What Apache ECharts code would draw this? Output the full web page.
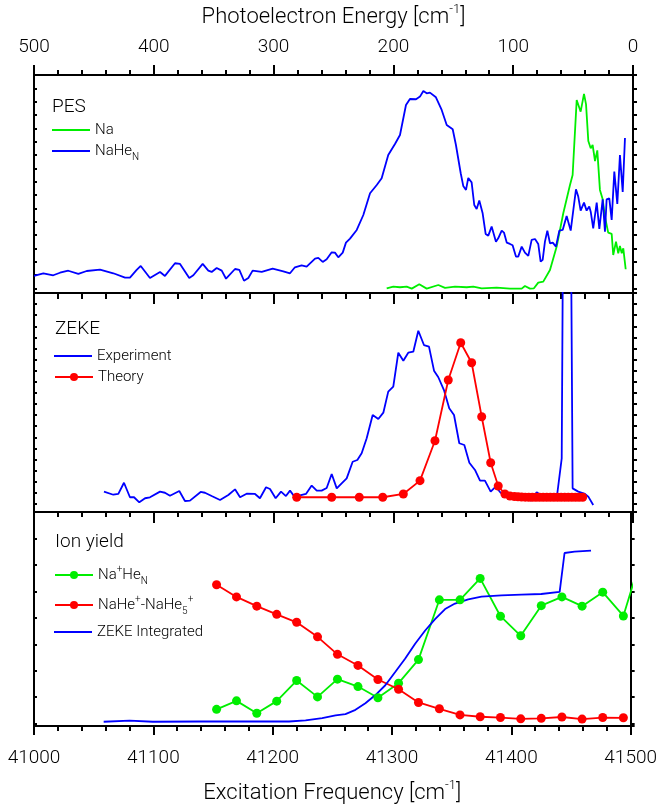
<!DOCTYPE html>
<html>
<head>
<meta charset="utf-8">
<script src="https://cdn.jsdelivr.net/npm/echarts@6/dist/echarts.min.js"></script>
<style>
  html, body { margin: 0; padding: 0; background: #fff; }
  #chart { width: 660px; height: 808px; }
</style>
</head>
<body>
<div id="chart"></div>
<script>
// PES panel: photoelectron energy [cm-1] vs intensity (arb. units)
var pesNaHeE = [500,492.2,483.9,478.3,471.4,463,456,444.9,433.8,424,419.9,414.3,410.9,403.2,394.8,390.7,382.3,378.1,370.4,367,359.2,354.5,351.7,347.5,343.3,339.7,332.2,328.6,324.7,321.1,317.5,309.9,300.8,291.9,286.3,282.2,276.6,272.4,265.4,262.7,259,255.7,251.5,248.8,246,242.3,239.6,236.2,230.6,225.1,219.5,213.9,209.8,204.3,198.7,194.5,189.5,186.2,181.1,177.8,175,172.2,169.5,164.5,159.7,155.5,150.5,147.8,143.8,141.7,139.4,137.5,134.7,132.5,130.5,128.3,125.5,123,120.8,118,116.6,114.4,112.5,109.6,107.7,105.4,102.7,100.5,97.7,95.8,92.9,90.2,87.4,84.6,81.8,79.1,77.1,75.4,73.5,71.5,69.3,67,64.3,61.5,58.7,55.4,52,49.8,47.6,45.7,43.7,40.9,38.7,36.5,35.3,33.2,30.3,28.1,25.3,23.4,22,19.8,17.8,15.6,13.1,10.9,8.6,6.7];
var pesNaHeI = [12.8,14.8,13.3,15.2,16.7,14.3,16.5,17.5,14.8,11.5,11.5,17.3,20.3,11.3,15.8,12.8,22.3,21.8,11.3,13.3,21.8,16.8,15.8,18.8,16.8,10.7,18,17.3,9.2,11.3,16.8,15.8,18.3,16.3,14.8,19.3,20.8,19.8,25.8,26.3,23.3,25.3,30.5,30.3,26.8,30.3,37.8,40.8,47.3,58.5,74.8,81,86,103.5,111.8,118.5,141,145.5,145.3,147.3,151.5,149.8,150.3,146.8,137.3,126,122.8,111,89.8,80.3,77.3,86.3,83,66,63,69.3,59.8,44.3,43,49.8,48.5,38.5,41,46.8,45.3,37.8,36.8,35.8,27.3,27.3,34.8,30.3,27.8,39.8,40.5,36.8,23.5,24.8,38.5,46.8,37.3,37.8,34.8,46.8,47.3,57.8,46.8,62.3,77.8,72.3,61.8,67.8,61.8,64.8,61,48.5,67.8,48,70.3,46,70.3,71,54.8,91,66.8,103.5,75.8,116.3];
var pesNaE = [205.6,200.1,194.5,188.9,184.7,178.4,172.2,162.5,156.9,148.6,138.8,133.3,126.3,113.8,102.7,92.9,90.2,86,82.7,79.1,74.9,69.3,63.7,58.2,52.6,50.4,47,45.7,43.7,40.9,39.2,37.3,35.3,33.7,31.7,29.8,27.6,25.3,23.4,20.7,17.8,16.5,14.2,12.3,10.9,9.4,8.1,6.1];
var pesNaI = [3.5,4.8,4.3,4.8,3.3,6.5,3.3,6,3.8,4.8,4.3,4.8,3.5,4,3.3,3.3,5.3,3.3,3.5,7.8,8.5,17.3,34.8,59.8,81,88.5,144.8,146,136,149.3,141.5,114,108.5,111,99,107,77.3,70.3,57.3,45.3,44.3,28.5,38.5,29.8,35.3,29.8,33.5,17.8];

// ZEKE panel: excitation frequency [cm-1] vs signal
var zekeExpF = [41058.4,41066.2,41070.4,41075.1,41080.1,41083.5,41087.9,41092.7,41096.8,41105.2,41109.3,41113.5,41121.3,41126,41130.2,41139.1,41142.7,41148.3,41155.3,41162.2,41167.8,41172,41177.5,41184.5,41188.6,41193.7,41197,41201.7,41206.2,41210.3,41213.7,41218.7,41222,41227,41231.8,41236,41240.1,41244.3,41248.5,41252.7,41256.8,41261,41266,41269.9,41273.5,41277.7,41282.7,41287.4,41291.6,41295.7,41299.9,41304.1,41308.3,41312.4,41316.6,41320.8,41325.5,41329.7,41333.9,41337.5,41342.2,41346.6,41350.6,41355,41359.2,41363.4,41368.1,41372.3,41376.4,41381.2,41385.4,41389.5,41394,41397.9,41401.5,41405.7,41409.8,41414.8,41419.6,41423.8,41427.9,41432.1,41436.3,41440.5,41441.6,41448.2,41449.6,41454.3,41459.9,41462.7,41466.8];
var zekeExpI = [18.5,15.7,16.4,26.6,13.4,13.4,8.8,12.5,13.4,18.5,17.5,14.8,19.1,10,10.3,18.2,17.5,14.5,10.9,15.5,20.6,13.4,16.6,16.4,12.5,22.5,20.9,12.5,18.5,14.5,19.4,12.1,15.2,16.4,24,19.4,19.4,21.8,34.5,21.5,26.1,30.6,45.7,47.3,53.4,67,88.2,84.5,90.3,109.4,113.9,144.8,137.5,144.8,145.7,164.8,151.8,150.3,128.5,122.5,110.9,94.3,88.2,62.5,60.9,44.8,38.2,28.5,28.5,18.5,23,17.5,16.4,17.5,14,16.1,15.2,10.3,17.9,14.8,10.9,13.9,12.5,48.8,260,260,21.5,18.5,16.4,14,6.4];
var zekeThF = [41219.3,41248.5,41271.5,41291.1,41308.3,41322.2,41334.7,41345.8,41356.2,41365.3,41373.7,41381.2,41387.5,41393.1,41397.3,41401,41404,41407,41410,41413,41416,41419,41422,41425,41428,41431,41434,41437,41440,41443,41446,41449,41452,41455,41458];
var zekeThI = [13.4,13.4,13.4,13.4,16.4,28.5,64.8,120,153.9,135.7,86.6,44.8,23.6,16.4,14.5,14,13.8,13.6,13.5,13.4,13.4,13.4,13.4,13.4,13.4,13.4,13.4,13.4,13.4,13.4,13.4,13.4,13.4,13.4,13.4];

// Ion yield panel
var ionF = [41153,41169.7,41186.7,41203.4,41220.1,41237.6,41254.3,41271.5,41288.2,41305.5,41322.2,41339.7,41357,41373.9,41390.9,41407.9,41425.1,41442.4,41459.3,41476.6,41493.9,41510.9];
var ionNaHeN = [6.3,9.5,4.8,9.4,17.2,11,17.7,14.9,10.7,16.2,25.1,47.7,47.7,55.8,41.5,34.1,45.5,48.8,45.3,50.6,41.6,66.7];
var ionNaHe15 = [53.4,48.8,45.3,42.2,39.2,33.7,27.1,22.9,17.6,13.9,8.9,6.5,4.2,3.5,3.2,2.7,2.9,3.4,2.6,3.2,3.1];
var zekeIntF = [41058.4,41080.1,41099.6,41138.6,41180.3,41213.7,41227.6,41241.5,41252.7,41261,41269.4,41277.7,41286.1,41294.4,41302.7,41311.1,41319.4,41327.8,41336.1,41344.5,41352.8,41363.9,41375,41391.7,41408.4,41425.1,41440.5,41444.6,41453,41466.8];
var zekeIntI = [1.6,2.0,1.6,1.7,1.7,1.7,2.1,3.0,4.0,4.5,6.1,8.6,11.7,15.4,20.4,25.5,31.1,36.1,40.4,44.2,46.3,47.9,48.9,49.4,49.7,49.9,50.7,65.4,65.9,66.3];

var FONT = 'Roboto';
var BLUE = '#0000ff', GREEN = '#00ee00', RED = '#ff0000';

function zip(xs, ys) {
  return ys.map(function (y, i) { return [xs[i], y]; });
}

var black = { color: '#000', width: 2 };
var supSub = {
  sup: { fontSize: 10, lineHeight: 10, verticalAlign: 'top', fontFamily: FONT, color: '#000' },
  sub: { fontSize: 10, lineHeight: 10, verticalAlign: 'bottom', fontFamily: FONT, color: '#000' }
};
var nameStyle = { fontSize: 22, lineHeight: 28, color: '#000', fontFamily: FONT, fontWeight: 300,
  rich: { sup: { fontSize: 13, lineHeight: 13, verticalAlign: 'top', fontFamily: FONT, fontWeight: 300, color: '#000' } } };

function plain(v) { return String(v); }

function freqAxis(grid, withLabels) {
  return {
    gridIndex: grid, type: 'value', position: 'bottom',
    min: 41000, max: 41500, interval: 100,
    axisLine: { show: true, onZero: false, lineStyle: black },
    axisTick: { show: true, inside: false, length: withLabels ? 9 : 11, lineStyle: black },
    minorTick: { show: true, splitNumber: 5, length: 5, lineStyle: black },
    axisLabel: { show: withLabels, margin: 23, fontSize: 19, color: '#000', fontFamily: FONT, fontWeight: 300, formatter: plain },
    splitLine: { show: false }, minorSplitLine: { show: false },
    name: withLabels ? 'Excitation Frequency [cm{sup|-1}]' : '',
    nameLocation: 'middle', nameGap: 53, nameTextStyle: nameStyle
  };
}

function tickAxis(grid, side, max) {
  return {
    gridIndex: grid, type: 'value', position: side, inverse: true,
    min: 0, max: max, interval: 1,
    axisLine: { show: true, onZero: false, lineStyle: black },
    axisTick: { show: true, inside: side === 'left', length: side === 'left' ? 3 : 4, lineStyle: black },
    axisLabel: { show: false }, splitLine: { show: false }
  };
}

function dataAxis(grid, max) {
  return { gridIndex: grid, type: 'value', min: 0, max: max, show: false };
}

// lineOnly: plain line in the key (no marker)
function legendItem(name, left, top, lineOnly) {
  return {
    data: [lineOnly ? { name: name, icon: 'rect' } : name],
    left: left, top: top, padding: 0,
    itemWidth: 38, itemHeight: lineOnly ? 2 : 10, selectedMode: false,
    formatter: function (n) {
      return {
        'NaHeN': 'NaHe{sub|N}',
        'Na+HeN': 'Na{sup|+}He{sub|N}',
        'NaHe+-NaHe5+': 'NaHe{sup|+}-NaHe{sub|5}{sup|+}'
      }[n] || n;
    },
    textStyle: { fontSize: 15, lineHeight: 22, color: '#000', fontFamily: FONT, fontWeight: 300, rich: supSub }
  };
}

function panelTitle(text, left, top) {
  return {
    text: text, left: left, top: top, padding: 0,
    textStyle: { fontSize: 19, fontWeight: 300, color: '#000', fontFamily: FONT }
  };
}

var chart = echarts.init(document.getElementById('chart'));
chart.setOption({
  backgroundColor: '#fff',
  animation: false,
  title: [
    panelTitle('PES', 52, 98),
    panelTitle('ZEKE', 55, 320),
    panelTitle('Ion yield', 55, 533)
  ],
  legend: [
    legendItem('Na', 52, 119, true),
    legendItem('NaHeN', 52, 140, true),
    legendItem('Experiment', 54, 345, true),
    legendItem('Theory', 54, 366, false),
    legendItem('Na+HeN', 54, 564, false),
    legendItem('NaHe+-NaHe5+', 54, 594, false),
    legendItem('ZEKE Integrated', 54, 621, true)
  ],
  grid: [
    { left: 34, top: 75, width: 599, height: 218 },
    { left: 34, top: 293, width: 599, height: 219 },
    { left: 34, top: 512, width: 599, height: 216 }
  ],
  xAxis: [
    {
      gridIndex: 0, type: 'value', position: 'top', inverse: true,
      min: 0, max: 500, interval: 100,
      axisLine: { show: true, onZero: false, lineStyle: black },
      axisTick: { show: true, inside: false, length: 10, lineStyle: black },
      minorTick: { show: true, splitNumber: 5, length: 5, lineStyle: black },
      axisLabel: { show: true, margin: 18, fontSize: 19, color: '#000', fontFamily: FONT, fontWeight: 300, formatter: plain },
      splitLine: { show: false }, minorSplitLine: { show: false },
      name: 'Photoelectron Energy [cm{sup|-1}]', nameLocation: 'middle', nameGap: 44, nameTextStyle: nameStyle
    },
    {
      gridIndex: 0, type: 'value', position: 'top', inverse: true,
      min: 0, max: 500, interval: 100,
      axisLine: { show: false },
      axisTick: { show: true, inside: true, length: 8, lineStyle: black },
      minorTick: { show: true, splitNumber: 5, length: 6, lineStyle: black },
      axisLabel: { show: false }, splitLine: { show: false }, minorSplitLine: { show: false }
    },
    freqAxis(0, false),
    freqAxis(1, false),
    freqAxis(2, true)
  ],
  yAxis: [
    dataAxis(0, 163.5), tickAxis(0, 'left', 16.35), tickAxis(0, 'right', 16.35),
    dataAxis(1, 199.1), tickAxis(1, 'left', 19.73), tickAxis(1, 'right', 19.73),
    dataAxis(2, 80.9), tickAxis(2, 'left', 8.09), tickAxis(2, 'right', 8.09)
  ],
  series: [
    { name: 'Na', type: 'line', xAxisIndex: 0, yAxisIndex: 0, data: zip(pesNaE, pesNaI),
      symbol: 'none', color: GREEN, lineStyle: { width: 1.8 } },
    { name: 'NaHeN', type: 'line', xAxisIndex: 0, yAxisIndex: 0, data: zip(pesNaHeE, pesNaHeI),
      symbol: 'none', color: BLUE, lineStyle: { width: 1.8 } },
    { name: 'Experiment', type: 'line', xAxisIndex: 3, yAxisIndex: 3, data: zip(zekeExpF, zekeExpI),
      symbol: 'none', color: BLUE, lineStyle: { width: 1.8 } },
    { name: 'Theory', type: 'line', xAxisIndex: 3, yAxisIndex: 3, data: zip(zekeThF, zekeThI),
      symbol: 'circle', symbolSize: 9, color: RED, lineStyle: { width: 1.8 } },
    { name: 'Na+HeN', type: 'line', xAxisIndex: 4, yAxisIndex: 6, data: zip(ionF, ionNaHeN),
      symbol: 'circle', symbolSize: 9, color: GREEN, lineStyle: { width: 1.8 } },
    { name: 'NaHe+-NaHe5+', type: 'line', xAxisIndex: 4, yAxisIndex: 6, data: zip(ionF, ionNaHe15),
      symbol: 'circle', symbolSize: 9, color: RED, lineStyle: { width: 1.8 } },
    { name: 'ZEKE Integrated', type: 'line', xAxisIndex: 4, yAxisIndex: 6, data: zip(zekeIntF, zekeIntI),
      symbol: 'none', color: BLUE, lineStyle: { width: 1.8 } }
  ]
});
</script>
</body>
</html>
